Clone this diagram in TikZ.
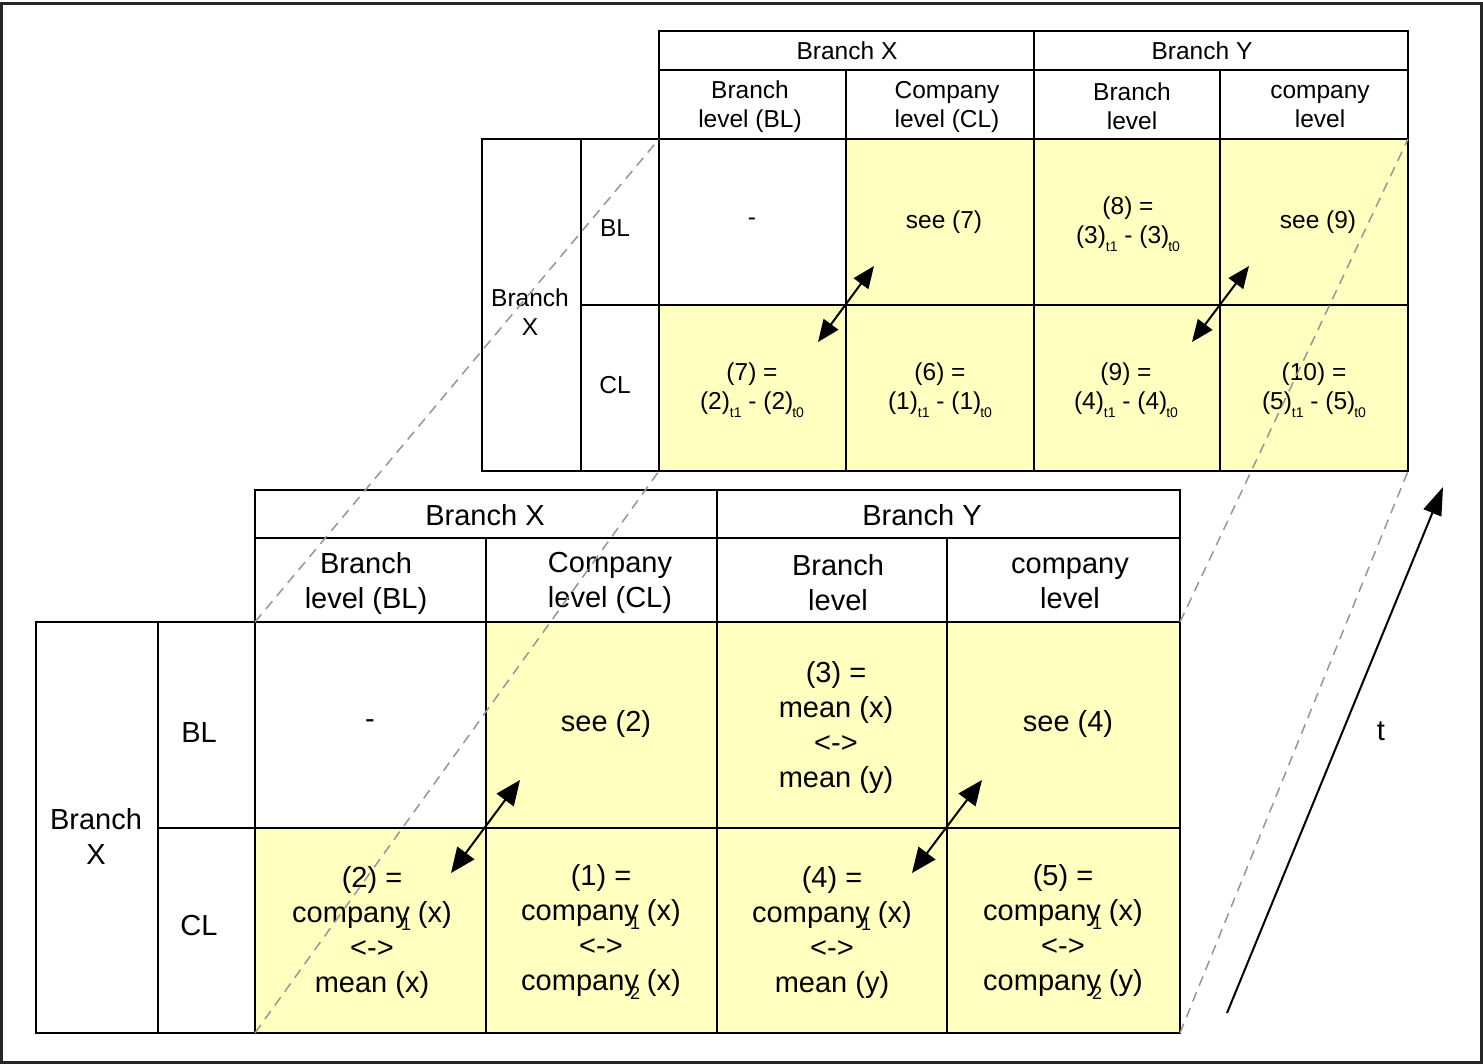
\documentclass[tikz,border=0pt]{standalone}
\usepackage{fontspec}
\setmainfont{Liberation Sans}
\usetikzlibrary{arrows.meta}
\definecolor{cellyellow}{RGB}{255,255,192}
\definecolor{dashgray}{RGB}{150,150,150}
\newcommand\ovsub[1]{\makebox[0pt][l]{\kern-0.3em\raisebox{-0.28em}{\fontsize{18}{18}\selectfont #1}}}
\newcommand\tsub[1]{\raisebox{-0.32em}{\fontsize{14}{14}\selectfont #1}}
\begin{document}
\begin{tikzpicture}[x=1pt,y=-1pt,
 cell/.style={draw=black, line width=1.8pt, inner sep=0pt, outer sep=0pt},
 yel/.style={cell, fill=cellyellow},
 wht/.style={cell, fill=white},
 bigtxt/.style={font=\fontsize{29}{35}\selectfont, inner sep=0pt, align=center},
 smalltxt/.style={font=\fontsize{24.5}{29}\selectfont, inner sep=0pt, align=center},
 guide/.style={draw=dashgray, line width=1.5pt, dash pattern=on 10pt off 7pt},
 dblbig/.style={line width=2pt, {Triangle[length=25pt,width=21pt]}-{Triangle[length=25pt,width=21pt]}},
 dblsmall/.style={line width=2pt, {Triangle[length=22pt,width=18pt]}-{Triangle[length=22pt,width=18pt]}},
 timearrow/.style={line width=2pt, -{Triangle[length=28pt,width=19pt]}}
]
\useasboundingbox (0,0) rectangle (1483,1064);
\draw[line width=2.5pt, black!85] (1.5,3.5) rectangle (1481.5,1062.5);

% ---------- top table (t1): cells ----------
\node[wht, minimum width=375, minimum height=39] (tBX) at (846.5,50.5) {};
\node[wht, minimum width=374, minimum height=39] (tBY) at (1221,50.5) {};
\node[wht, minimum width=187, minimum height=69] (tH1) at (752.5,104.5) {};
\node[wht, minimum width=188, minimum height=69] (tH2) at (940,104.5) {};
\node[wht, minimum width=186, minimum height=69] (tH3) at (1127,104.5) {};
\node[wht, minimum width=188, minimum height=69] (tH4) at (1314,104.5) {};
\node[wht, minimum width=99, minimum height=332] (tBr) at (531.5,305) {};
\node[wht, minimum width=78, minimum height=166] (tBL) at (620,222) {};
\node[wht, minimum width=78, minimum height=166] (tCL) at (620,388) {};
\node[wht, minimum width=187, minimum height=166] (t11) at (752.5,222) {};
\node[yel, minimum width=188, minimum height=166] (t12) at (940,222) {};
\node[yel, minimum width=186, minimum height=166] (t13) at (1127,222) {};
\node[yel, minimum width=188, minimum height=166] (t14) at (1314,222) {};
\node[yel, minimum width=187, minimum height=166] (t21) at (752.5,388) {};
\node[yel, minimum width=188, minimum height=166] (t22) at (940,388) {};
\node[yel, minimum width=186, minimum height=166] (t23) at (1127,388) {};
\node[yel, minimum width=188, minimum height=166] (t24) at (1314,388) {};

% ---------- top table: texts ----------
\node[smalltxt] (tBXt) at (847,51) {Branch X};
\node[smalltxt] (tBYt) at (1202,51) {Branch Y};
\node[smalltxt] (tH1t) at (750,106.5) {Branch\\level (BL)};
\node[smalltxt] (tH2t) at (947,106.5) {Company\\level (CL)};
\node[smalltxt] (tH3t) at (1132,106.5) {Branch\\level};
\node[smalltxt] (tH4t) at (1320,106.5) {company\\level};
\node[smalltxt] (tBrt) at (530,312) {Branch\\X};
\node[smalltxt] (tBLt) at (615,228) {BL};
\node[smalltxt] (tCLt) at (615,385) {CL};
\node[smalltxt] (t11t) at (752,222) {-};
\node[smalltxt] (t12t) at (944,222) {see (7)};
\node[smalltxt] (t13t) at (1128,224) {(8) =\\(3)\tsub{t1} - (3)\kern-1pt\tsub{t0}};
\node[smalltxt] (t14t) at (1318,222) {see (9)};
\node[smalltxt] (t21t) at (752,390) {(7) =\\(2)\tsub{t1} - (2)\kern-1pt\tsub{t0}};
\node[smalltxt] (t22t) at (940,390) {(6) =\\(1)\tsub{t1} - (1)\kern-1pt\tsub{t0}};
\node[smalltxt] (t23t) at (1126,390) {(9) =\\(4)\tsub{t1} - (4)\kern-1pt\tsub{t0}};
\node[smalltxt] (t24t) at (1314,390) {(10) =\\(5)\tsub{t1} - (5)\kern-1pt\tsub{t0}};

% ---------- bottom table (t0): cells ----------
\node[wht, minimum width=462, minimum height=48] (bBX) at (486,514) {};
\node[wht, minimum width=463, minimum height=48] (bBY) at (948.5,514) {};
\node[wht, minimum width=231, minimum height=84] (bH1) at (370.5,580) {};
\node[wht, minimum width=231, minimum height=84] (bH2) at (601.5,580) {};
\node[wht, minimum width=230, minimum height=84] (bH3) at (832,580) {};
\node[wht, minimum width=233, minimum height=84] (bH4) at (1063.5,580) {};
\node[wht, minimum width=122, minimum height=411] (bBr) at (97,827.5) {};
\node[wht, minimum width=97, minimum height=206] (bBL) at (206.5,725) {};
\node[wht, minimum width=97, minimum height=205] (bCL) at (206.5,930.5) {};
\node[wht, minimum width=231, minimum height=206] (b11) at (370.5,725) {};
\node[yel, minimum width=231, minimum height=206] (b12) at (601.5,725) {};
\node[yel, minimum width=230, minimum height=206] (b13) at (832,725) {};
\node[yel, minimum width=233, minimum height=206] (b14) at (1063.5,725) {};
\node[yel, minimum width=231, minimum height=205] (b21) at (370.5,930.5) {};
\node[yel, minimum width=231, minimum height=205] (b22) at (601.5,930.5) {};
\node[yel, minimum width=230, minimum height=205] (b23) at (832,930.5) {};
\node[yel, minimum width=233, minimum height=205] (b24) at (1063.5,930.5) {};

% ---------- bottom table: texts ----------
\node[bigtxt] (bBXt) at (485,515) {Branch X};
\node[bigtxt] (bBYt) at (922,515) {Branch Y};
\node[bigtxt] (bH1t) at (366,583) {Branch\\level (BL)};
\node[bigtxt] (bH2t) at (610,583) {Company\\level (CL)};
\node[bigtxt] (bH3t) at (838,583) {Branch\\level};
\node[bigtxt] (bH4t) at (1070,583) {company\\level};
\node[bigtxt] (bBrt) at (96,836) {Branch\\X};
\node[bigtxt] (bBLt) at (199,733) {BL};
\node[bigtxt] (bCLt) at (199,926) {CL};
\node[bigtxt] (b11t) at (370,724) {-};
\node[bigtxt] (b12t) at (606,724) {see (2)};
\node[bigtxt] (b13t) at (836,727) {(3) =\\mean (x)\\<->\\mean (y)};
\node[bigtxt] (b14t) at (1068,724) {see (4)};
\node[bigtxt] (b21t) at (372,932) {(2) =\\company\ovsub{1} (x)\\<->\\mean (x)};
\node[bigtxt] (b22t) at (601,932) {(1) =\\company\ovsub{1} (x)\\<->\\company\ovsub{2} (x)};
\node[bigtxt] (b23t) at (832,932) {(4) =\\company\ovsub{1} (x)\\<->\\mean (y)};
\node[bigtxt] (b24t) at (1063,932) {(5) =\\company\ovsub{1} (x)\\<->\\company\ovsub{2} (y)};

% ---------- dashed guide lines ----------
\draw[guide] (b11.north west) -- (t11.north west);
\draw[guide] (b21.south west) -- (t21.south west);
\draw[guide] (b14.north east) -- (t14.north east);
\draw[guide] (b24.south east) -- (t24.south east);

% ---------- double arrows ----------
\coordinate (ba1) at (451,873); \coordinate (ba2) at (520,780);
\coordinate (bb1) at (912,873); \coordinate (bb2) at (982,780);
\coordinate (ta1) at (818,342); \coordinate (ta2) at (874,266);
\coordinate (tb1) at (1192,342); \coordinate (tb2) at (1249,266);
\draw[dblbig] (ba1) -- (ba2);
\draw[dblbig] (bb1) -- (bb2);
\draw[dblsmall] (ta1) -- (ta2);
\draw[dblsmall] (tb1) -- (tb2);

% ---------- time axis ----------
\coordinate (ts) at (1227,1013);
\coordinate (te) at (1443,487);
\draw[timearrow] (ts) -- (te);
\node[bigtxt] (tlabel) at (1381,731) {t};
\end{tikzpicture}
\end{document}
